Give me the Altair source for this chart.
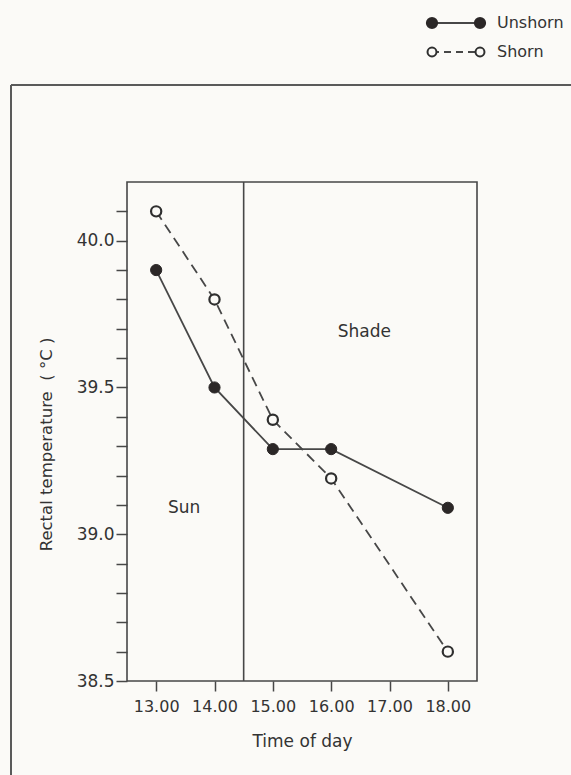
import altair as alt
import pandas as pd

# ---- data ----
times = [13, 14, 15, 16, 18]
unshorn = [39.9, 39.5, 39.29, 39.29, 39.09]
shorn = [40.1, 39.8, 39.39, 39.19, 38.6]

x_ticks = [13, 14, 15, 16, 17, 18]
y_ticks = [38.5, 38.6, 38.7, 38.8, 38.9, 39.0, 39.1, 39.2, 39.3, 39.4,
           39.5, 39.6, 39.7, 39.8, 39.9, 40.0, 40.1]
divider = [14.5]
zone_labels = ["Sun", "Shade"]
zone_x = [13.48, 16.57]
zone_y = [39.09, 39.69]
legend_labels = ["Unshorn", "Shorn"]

# ---- styling / layout ----
BG = "#fbfaf7"
INK = "#333333"
LINE = "#474747"
FONT = "DejaVu Sans"
W, H = 350, 499
PAD = {"left": 127, "top": 182, "right": 94, "bottom": 94}
NB = "\u00a0"

df_u = pd.DataFrame({"time": times, "temp": unshorn})
df_s = pd.DataFrame({"time": times, "temp": shorn})
df_div = pd.DataFrame({"time": divider})
df_zone = pd.DataFrame({"label": zone_labels, "time": zone_x, "temp": zone_y})

xscale = alt.Scale(domain=[12.5, 18.5], nice=False, zero=False)
yscale = alt.Scale(domain=[38.5, 40.2], nice=False, zero=False)

xaxis = alt.Axis(
    values=x_ticks, format=".2f", title="Time of day", grid=False, domain=False,
    tickCount=20,
    tickSize=10, tickColor=LINE, tickWidth=1.5, labelPadding=7, labelOverlap=False,
    labelFont=FONT, labelFontSize=16, labelColor=INK,
    titleFont=FONT, titleFontSize=17, titleFontWeight="normal", titleColor=INK,
    titleY=65, titleBaseline="alphabetic",
)
yaxis = alt.Axis(
    values=y_ticks, title=f"Rectal temperature{NB}{NB}({NB}°C{NB})", grid=False,
    domain=False, labelOverlap=False, tickCount=40,
    labelExpr="round(datum.value*10) % 5 == 0 ? format(datum.value, '.1f') : ''",
    tickSize=11, tickColor=LINE, tickWidth=1.5, labelPadding=2,
    labelFont=FONT, labelFontSize=17, labelColor=INK,
    titleFont=FONT, titleFontSize=16.5, titleFontWeight="normal", titleColor=INK,
    titleAngle=270, titleX=-81, titleY=262, titleAlign="center", titleBaseline="middle",
)

X = alt.X("time:Q", scale=xscale, axis=xaxis)
Y = alt.Y("temp:Q", scale=yscale, axis=yaxis)

div_rule = alt.Chart(df_div).mark_rule(color=LINE, strokeWidth=1.6).encode(
    x=alt.X("time:Q", scale=xscale)
)

line_u = alt.Chart(df_u).mark_line(color=LINE, strokeWidth=1.8).encode(x=X, y=Y)
line_s = alt.Chart(df_s).mark_line(color=LINE, strokeWidth=1.8, strokeDash=[10, 6]).encode(
    x="time:Q", y="temp:Q")
pts_u = alt.Chart(df_u).mark_point(shape="circle", filled=True, fill="#2b2727",
                                   stroke="#2b2727", strokeWidth=1, size=125,
                                   opacity=1).encode(x="time:Q", y="temp:Q")
pts_s = alt.Chart(df_s).mark_point(shape="circle", filled=True, fill=BG,
                                   stroke="#2f2f2f", strokeWidth=2.2, size=105,
                                   opacity=1).encode(x="time:Q", y="temp:Q")

zones = alt.Chart(df_zone).mark_text(font=FONT, fontSize=17, color=INK,
                                     align="center", baseline="middle").encode(
    x="time:Q", y="temp:Q", text="label:N")


def one():
    return pd.DataFrame({"k": [0]})


# legend (top right, outside the plot)
LX1, LX2, LTX = 305, 353, 370
legend_layers = []
for i, lab in enumerate(legend_labels):
    ly = -159 + i * 29
    filled = i == 0
    rule_kw = dict(color=LINE, strokeWidth=1.8)
    if not filled:
        rule_kw["strokeDash"] = [7, 5]
    legend_layers.append(
        alt.Chart(one()).mark_rule(**rule_kw).encode(
            x=alt.value(LX1), x2=alt.value(LX2), y=alt.value(ly)))
    for lx in (LX1, LX2):
        if filled:
            mk = alt.Chart(one()).mark_point(shape="circle", filled=True, fill="#2b2727",
                                             stroke="#2b2727", size=105, opacity=1)
        else:
            mk = alt.Chart(one()).mark_point(shape="circle", filled=True, fill=BG,
                                             stroke="#2f2f2f", strokeWidth=2, size=80,
                                             opacity=1)
        legend_layers.append(mk.encode(x=alt.value(lx), y=alt.value(ly)))
    legend_layers.append(
        alt.Chart(one()).mark_text(font=FONT, fontSize=16, color=INK, align="left",
                                   baseline="middle", text=lab).encode(
            x=alt.value(LTX), y=alt.value(ly)))

# outer scanned-page frame
frame_top = alt.Chart(one()).mark_rule(color="#5a5a5a", strokeWidth=2).encode(
    x=alt.value(-116), x2=alt.value(444), y=alt.value(-97))
frame_left = alt.Chart(one()).mark_rule(color="#5a5a5a", strokeWidth=2).encode(
    x=alt.value(-116), y=alt.value(-97), y2=alt.value(593))

chart = alt.layer(
    frame_top, frame_left, div_rule, line_u, line_s, pts_u, pts_s, zones, *legend_layers
).properties(
    width=W, height=H, padding=PAD,
    autosize=alt.AutoSizeParams(type="none"),
    background=BG,
).configure_view(
    stroke=LINE, strokeWidth=1.6, fill=None
)

chart.save("out.html", embed_options={"renderer": "svg", "actions": False})
